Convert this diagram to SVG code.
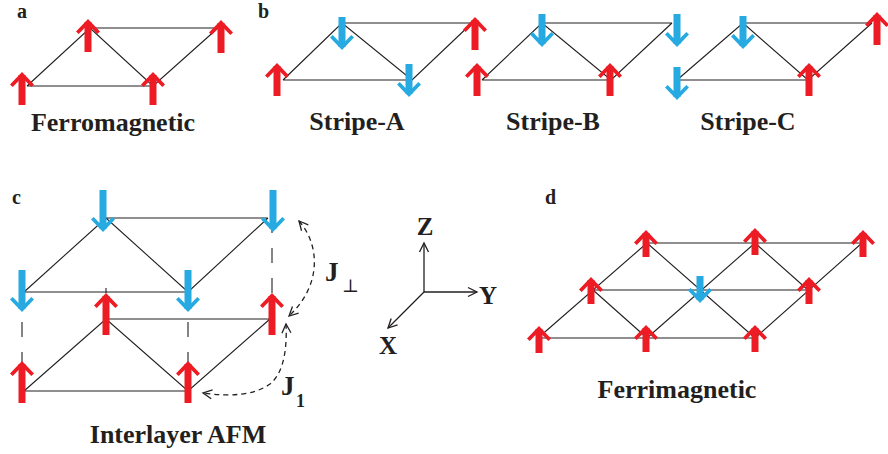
<svg xmlns="http://www.w3.org/2000/svg" xmlns:xlink="http://www.w3.org/1999/xlink" width="888" height="454" viewBox="0 0 888 454">
  <style>
    .bg { fill: #ffffff; }
    .lat { stroke: #231f20; stroke-width: 1.1; fill: none; }
    .vdash { stroke: #231f20; stroke-width: 1.1; fill: none; stroke-dasharray: 15 15; }
    .coup { stroke: #231f20; stroke-width: 1.3; fill: none; stroke-dasharray: 5 4; }
    .axis { stroke: #231f20; stroke-width: 1.3; fill: none; }
    .red { fill: #ed1c24; }
    .blue { fill: #27aae1; }
    .lbl { font-family: "Liberation Serif", "Times New Roman", serif; font-weight: bold; fill: #231f20; }
    .panel { font-size: 20px; }
    .name { font-size: 26px; text-anchor: middle; }
  </style>
  <defs>
    <!-- spin arrow heads and bodies, tip at the origin, pointing up -->
    <polygon id="head" points="0,0 12,12.5 9.3,15 0,5.6 -9.3,15 -12,12.5"/>
    <g id="up33"><use xlink:href="#head"/><rect x="-3.5" y="3" width="7" height="30"/></g>
    <g id="up42"><use xlink:href="#head"/><rect x="-3.5" y="3" width="7" height="39"/></g>
    <g id="up27"><use xlink:href="#head"/><rect x="-3.5" y="3" width="7" height="24"/></g>
    <marker id="open" viewBox="-11 -6 13 12" refX="0" refY="0" markerWidth="13" markerHeight="12" markerUnits="userSpaceOnUse" orient="auto-start-reverse">
      <path d="M-9,-4.5 L0,0 L-9,4.5" fill="none" stroke="#231f20" stroke-width="1.3"/>
    </marker>
  </defs>
  <rect class="bg" x="0" y="0" width="888" height="454"/>

  <!-- a: ferromagnetic -->
  <g id="panel-a">
    <path class="lat" d="M27,86 H153 M90,28 H218 M27,86 L90,28 L153,86 L218,28"/>
    <g class="red">
      <use xlink:href="#up33" x="22" y="72"/>
      <use xlink:href="#up33" x="88" y="19"/>
      <use xlink:href="#up33" x="153" y="72"/>
      <use xlink:href="#up33" x="221" y="20"/>
    </g>
    <text class="lbl panel" x="17" y="18">a</text>
    <text class="lbl name" x="113" y="131">Ferromagnetic</text>
  </g>

  <!-- b: stripe orders -->
  <g id="panel-b">
    <text class="lbl panel" x="258" y="18">b</text>
  </g>
  <g id="stripe-a">
    <path class="lat" d="M283,80 H412 M342,23 H472 M283,80 L342,23 L412,80 L472,23"/>
    <use class="red" xlink:href="#up33" x="277" y="63"/>
    <use class="blue" xlink:href="#up33" transform="translate(342,50) rotate(180)"/>
    <use class="blue" xlink:href="#up33" transform="translate(409,97) rotate(180)"/>
    <use class="red" xlink:href="#up33" x="475" y="17"/>
    <text class="lbl name" x="357" y="130">Stripe-A</text>
  </g>
  <g id="stripe-b">
    <path class="lat" d="M482,80 H611 M542,23 H672 M482,80 L542,23 L611,80 L672,23"/>
    <use class="red" xlink:href="#up33" x="477" y="63"/>
    <use class="blue" xlink:href="#up33" transform="translate(542,47) rotate(180)"/>
    <use class="blue" xlink:href="#up33" transform="translate(677,47) rotate(180)"/>
    <use class="red" xlink:href="#up33" x="610" y="63"/>
    <text class="lbl name" x="553" y="130">Stripe-B</text>
  </g>
  <g id="stripe-c">
    <path class="lat" d="M677,80 H808 M743,23 H872 M677,80 L743,23 L808,80 L872,23"/>
    <use class="blue" xlink:href="#up33" transform="translate(677,100) rotate(180)"/>
    <use class="blue" xlink:href="#up33" transform="translate(743,49) rotate(180)"/>
    <use class="red" xlink:href="#up33" x="809" y="63"/>
    <use class="red" xlink:href="#up33" x="877" y="12"/>
    <text class="lbl name" x="748" y="130">Stripe-C</text>
  </g>

  <!-- c: interlayer antiferromagnet -->
  <g id="panel-c">
    <text class="lbl panel" x="12" y="204">c</text>
    <text class="lbl name" x="178" y="443">Interlayer AFM</text>
  </g>
  <g id="layer-top">
    <path class="lat" d="M24,292 H188 M106,218 H268 M24,292 L106,218 L188,292 L268,218"/>
  </g>
  <g id="layer-bottom">
    <path class="lat" d="M24,391 H188 M106,319 H270 M24,391 L106,319 L188,391 L270,319"/>
  </g>
  <g id="connectors">
    <path class="vdash" d="M22,292 V391 M188,292 V391 M272,218 V319"/>
    <path class="lat" d="M106,288 V293"/>
    <!-- exchange paths -->
    <path class="coup" d="M299,221 C320,245 322,285 289,316" marker-start="url(#open)" marker-end="url(#open)"/>
    <path class="coup" d="M286,324 C287,345 285,372 270,384 C255,395 230,397 203,393" marker-start="url(#open)" marker-end="url(#open)"/>
  </g>
  <g id="spins-c">
    <g class="blue">
      <use xlink:href="#up42" transform="translate(103,232) rotate(180)"/>
      <use xlink:href="#up42" transform="translate(273,232) rotate(180)"/>
      <use xlink:href="#up42" transform="translate(22,312) rotate(180)"/>
      <use xlink:href="#up42" transform="translate(188,312) rotate(180)"/>
    </g>
    <g class="red">
      <use xlink:href="#up42" x="106" y="293"/>
      <use xlink:href="#up42" x="272" y="293"/>
      <use xlink:href="#up42" x="22" y="361"/>
      <use xlink:href="#up42" x="188" y="361"/>
    </g>
  </g>
  <g id="label-jperp">
    <text class="lbl" x="325" y="281" font-size="27">J</text>
    <text x="342" y="292" font-family="DejaVu Serif, serif" font-size="18" fill="#231f20">⊥</text>
  </g>
  <g id="label-j1">
    <text class="lbl" x="281" y="395" font-size="27">J</text>
    <text class="lbl" x="296" y="407" font-size="18">1</text>
  </g>

  <!-- coordinate axes -->
  <g id="axes">
    <path class="axis" d="M424,292 V243" marker-end="url(#open)"/>
    <path class="axis" d="M424,292 H477" marker-end="url(#open)"/>
    <path class="axis" d="M424,292 L388,328" marker-end="url(#open)"/>
    <text class="lbl" x="425" y="235" font-size="25" text-anchor="middle">Z</text>
    <text class="lbl" x="479" y="304" font-size="25">Y</text>
    <text class="lbl" x="388" y="354" font-size="25" text-anchor="middle">X</text>
  </g>

  <!-- d: ferrimagnetic -->
  <g id="panel-d">
    <path class="lat" d="M538,338 H755 M593,290 H808 M647,243 H862
      M538,338 L647,243 M647,338 L755,243 M755,338 L862,243
      M593,290 L647,338 M647,243 L755,338 M755,243 L808,290"/>
    <g class="red">
      <use xlink:href="#up27" x="646" y="230"/>
      <use xlink:href="#up27" x="755" y="228"/>
      <use xlink:href="#up27" x="863" y="230"/>
      <use xlink:href="#up27" x="591" y="277"/>
      <use xlink:href="#up27" x="809" y="277"/>
      <use xlink:href="#up27" x="539" y="326"/>
      <use xlink:href="#up27" x="646" y="325"/>
      <use xlink:href="#up27" x="755" y="325"/>
    </g>
    <use class="blue" xlink:href="#up27" transform="translate(700,303) rotate(180)"/>
    <text class="lbl panel" x="545" y="204">d</text>
    <text class="lbl name" x="677" y="398">Ferrimagnetic</text>
  </g>
</svg>
